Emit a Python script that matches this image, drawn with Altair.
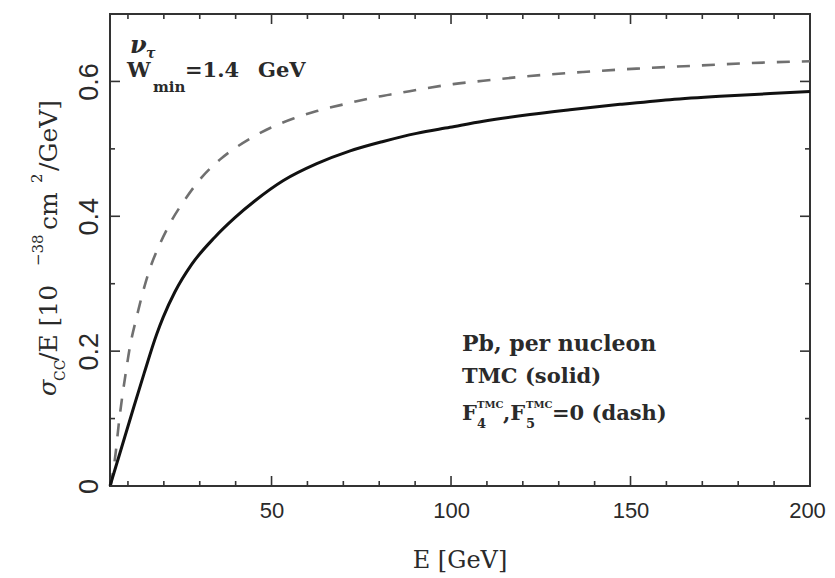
import altair as alt
import pandas as pd

# ---- data ----
E_tmc = [5, 8, 11.5, 14.5, 18, 19.8, 23.1, 27.8, 34.2, 39.8, 45.4, 53.3, 62.6, 71.9,
         81.1, 90.4, 99.7, 109, 122, 133.1, 147.1, 161, 174.9, 188.9, 200]
sigma_tmc = [0, 0.053, 0.115, 0.167, 0.225, 0.250, 0.288, 0.329, 0.369, 0.398, 0.423,
             0.453, 0.478, 0.497, 0.511, 0.523, 0.532, 0.541, 0.551, 0.558, 0.566,
             0.573, 0.578, 0.582, 0.585]

E_f45 = [5.2, 6.6, 7.4, 8.3, 9.4, 10.5, 12.4, 14.3, 16.1, 18.9, 22.2, 25.9, 30.6, 35.6,
         44, 49.6, 56.1, 62.6, 70.9, 78.3, 85.8, 93.2, 100.6, 109, 122, 136.8, 151.7,
         166.6, 182.4, 200]
sigma_f45 = [0, 0.05, 0.09, 0.128, 0.168, 0.205, 0.250, 0.290, 0.322, 0.359, 0.394,
             0.425, 0.458, 0.484, 0.515, 0.531, 0.545, 0.556, 0.567, 0.576, 0.583,
             0.590, 0.596, 0.601, 0.608, 0.614, 0.619, 0.623, 0.627, 0.630]

x_major = [50, 100, 150, 200]
x_minor = [10, 20, 30, 40, 60, 70, 80, 90, 110, 120, 130, 140, 160, 170, 180, 190]
y_major = [0, 0.2, 0.4, 0.6]
y_minor = [0.1, 0.3, 0.5]

# ---- layout ----
W, H = 700, 472
MAJ, MIN = 10, 5
INK = "#2a2a2a"
SERIF = "DejaVu Serif"
SANS = "Liberation Sans"

xs = alt.Scale(domain=[5, 200], nice=False, zero=False)
ys = alt.Scale(domain=[0, 0.7], nice=False, zero=False)

xaxis = alt.Axis(values=x_major, title=None, ticks=False, domain=False, grid=False,
                 labelFont=SANS, labelFontSize=22, labelColor=INK, labelPadding=14,
                 labelOffset={"condition": {"test": "datum.value == 200", "value": -3},
                              "value": 0},
                 labelFlush=False, labelOverlap=False)
yaxis = alt.Axis(values=y_major, title=None, ticks=False, domain=False, grid=False,
                 format=".1~f", labelAngle=270, labelAlign="center",
                 labelBaseline="alphabetic", labelFont=SANS, labelFontSize=27,
                 labelColor=INK, labelPadding=13, labelFlush=False, labelOverlap=False)

df_tmc = pd.DataFrame({"E": E_tmc, "sigma": sigma_tmc})
df_f45 = pd.DataFrame({"E": E_f45, "sigma": sigma_f45})

solid = alt.Chart(df_tmc).mark_line(color="#111111", strokeWidth=3,
                                    interpolate="monotone").encode(
    x=alt.X("E:Q", scale=xs, axis=xaxis),
    y=alt.Y("sigma:Q", scale=ys, axis=yaxis),
)
dashed = alt.Chart(df_f45).mark_line(color="#707070", strokeWidth=2.6,
                                     strokeDash=[13, 12],
                                     interpolate="monotone").encode(
    x=alt.X("E:Q", scale=xs, axis=xaxis),
    y=alt.Y("sigma:Q", scale=ys, axis=yaxis),
)


def xticks(vals, length):
    d = pd.DataFrame({"E": vals})
    base = alt.Chart(d).mark_rule(color="#333333", strokeWidth=1.6)
    bot = base.encode(x=alt.X("E:Q", scale=xs, axis=xaxis),
                      y=alt.value(H), y2=alt.value(H - length))
    top = base.encode(x=alt.X("E:Q", scale=xs, axis=xaxis),
                      y=alt.value(0), y2=alt.value(length))
    return [bot, top]


def yticks(vals, length):
    d = pd.DataFrame({"s": vals})
    base = alt.Chart(d).mark_rule(color="#333333", strokeWidth=1.6)
    left = base.encode(y=alt.Y("s:Q", scale=ys, axis=yaxis),
                       x=alt.value(0), x2=alt.value(length))
    right = base.encode(y=alt.Y("s:Q", scale=ys, axis=yaxis),
                        x=alt.value(W), x2=alt.value(W - length))
    return [left, right]


one = pd.DataFrame({"a": [0]})


def txt(text, x, y, size, angle=0, style="normal", weight="normal",
        align="left", font=SERIF):
    return alt.Chart(one).mark_text(
        text=text, font=font, fontSize=size, fontStyle=style, fontWeight=weight,
        angle=angle, align=align, baseline="alphabetic", color=INK,
    ).encode(x=alt.value(x), y=alt.value(y))


texts = [
    # top-left annotation
    txt("ν", 20, 39, 24, style="italic", weight="bold"),
    txt("τ", 36, 44, 14, style="italic", weight="bold"),
    txt("W", 17, 63, 21, weight="bold"),
    txt("min", 43, 78, 15, weight="bold"),
    txt("=1.4", 75, 63, 21, weight="bold"),
    txt("GeV", 148, 63, 21, weight="bold"),
    # bottom-right annotation
    txt("Pb, per nucleon", 352, 337, 22, weight="bold"),
    txt("TMC (solid)", 352, 369, 21, weight="bold"),
    txt("F", 352, 406, 21, weight="bold"),
    txt("4", 367, 414, 13, weight="bold"),
    txt("TMC", 367, 394, 10, weight="bold"),
    txt(",F", 393, 406, 21, weight="bold"),
    txt("5", 416, 414, 13, weight="bold"),
    txt("TMC", 416, 394, 10, weight="bold"),
    txt("=0 (dash)", 442, 406, 21, weight="bold"),
    # x title
    txt("E [GeV]", 350, 554, 24, align="center"),
    # y title (rotated)
    txt("σ", -54, 382, 24, angle=270, style="italic"),
    txt("CC", -45, 367, 14, angle=270),
    txt("/E [10", -53, 347, 25, angle=270),
    txt("−38", -67, 252, 15, angle=270),
    txt("cm", -53, 216, 25, angle=270),
    txt("2", -68, 169, 15, angle=270),
    txt("/GeV]", -53, 157, 25, angle=270),
]

layers = ([dashed, solid]
          + xticks(x_major, MAJ) + xticks(x_minor, MIN)
          + yticks(y_major, MAJ) + yticks(y_minor, MIN)
          + texts)

chart = alt.layer(*layers).properties(
    width=W, height=H,
    padding={"left": 102, "top": 6, "right": 17, "bottom": 90},
    autosize=alt.AutoSizeParams(type="none"),
    background="white",
).configure_view(stroke="#333333", strokeWidth=2)

chart.save("out.html", embed_options={"renderer": "svg", "actions": False})
